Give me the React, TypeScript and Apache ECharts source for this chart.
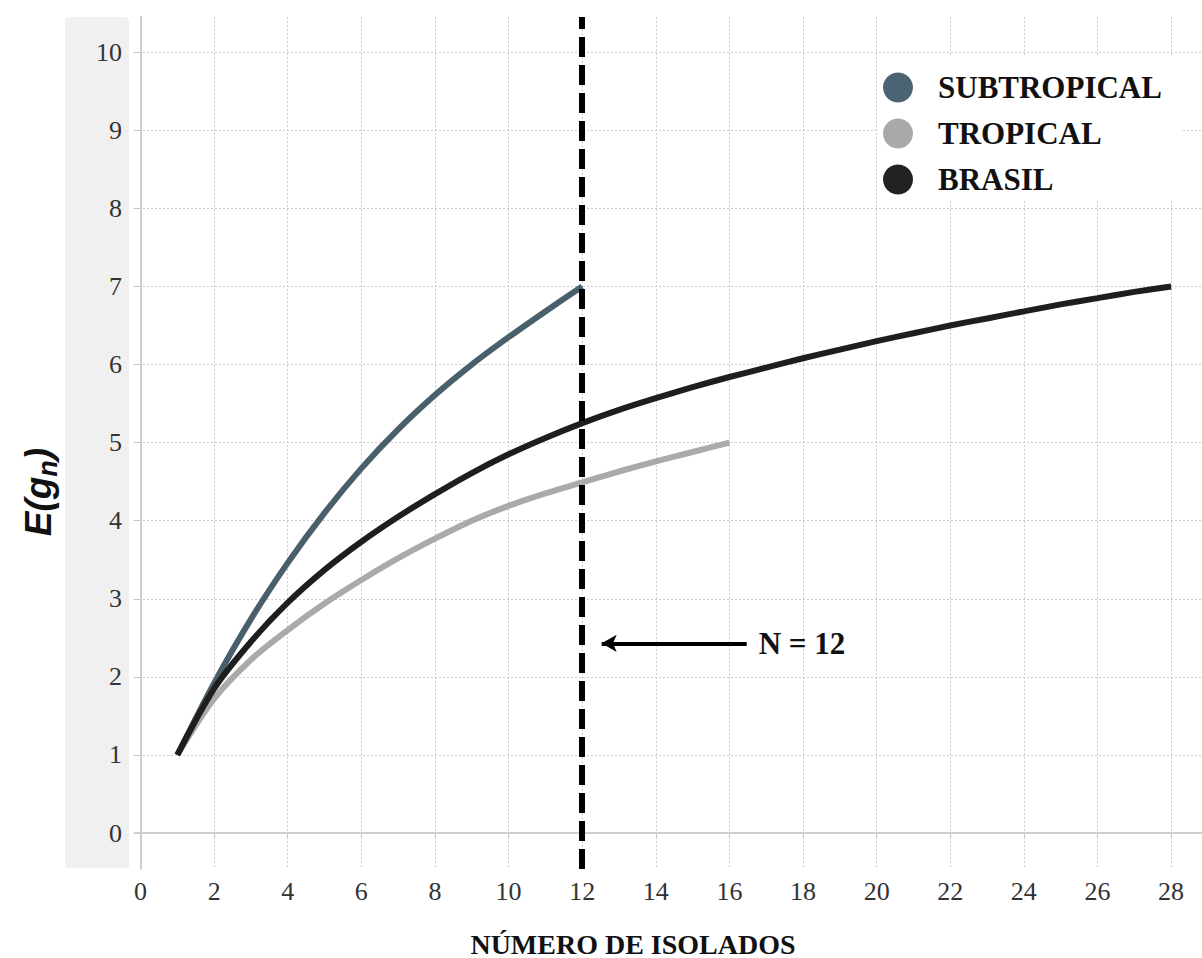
import React, { useEffect, useRef } from "react";
import * as echarts from "echarts";

const xTicks = [0, 2, 4, 6, 8, 10, 12, 14, 16, 18, 20, 22, 24, 26, 28];
const yTicks = [0, 1, 2, 3, 4, 5, 6, 7, 8, 9, 10];

const subtropicalX = [1, 2, 3, 4, 5, 6, 7, 8, 9, 10, 11, 12];
const subtropicalY = [1, 1.92, 2.74, 3.46, 4.1, 4.67, 5.17, 5.61, 6.0, 6.35, 6.68, 7.0];

const tropicalX = [1, 2, 3, 4, 5, 6, 7, 8, 9, 10, 11, 12, 13, 14, 15, 16];
const tropicalY = [1, 1.72, 2.22, 2.6, 2.94, 3.24, 3.52, 3.77, 4.0, 4.19, 4.35, 4.49, 4.63, 4.76, 4.88, 5.0];

const brasilX = [1, 2, 3, 4, 5, 6, 7, 8, 9, 10, 11, 12, 13, 14, 15, 16, 17, 18, 19, 20, 21, 22, 23, 24, 25, 26, 27, 28];
const brasilY = [1, 1.85, 2.45, 2.95, 3.37, 3.73, 4.05, 4.34, 4.61, 4.85, 5.06, 5.25, 5.42, 5.57, 5.71, 5.84, 5.96, 6.08, 6.19, 6.3, 6.4, 6.5, 6.59, 6.68, 6.77, 6.85, 6.93, 7.0];

const cutoffN = 12;
const arrowY = 2.43;
const arrowFrom = 16.47;
const arrowTo = 12.53;

const seriesNames = ["SUBTROPICAL", "TROPICAL", "BRASIL"];
const lineColors = ["#4a5f6c", "#aaaaaa", "#1e1e1e"];

const pair = (xs: number[], ys: number[]) => xs.map((x, i) => [x, ys[i]]);

export default function App() {
  const ref = useRef<HTMLDivElement>(null);
  useEffect(() => {
    if (!ref.current) return;
    const chart = echarts.init(ref.current, null, { renderer: "svg" });
    const serif = "'Liberation Serif', 'Times New Roman', serif";
    const sans = "'Liberation Sans', Arial, sans-serif";
    const gridLine = { show: true, lineStyle: { color: "#cccccc", type: [2, 2] as any, width: 1 } };
    chart.setOption({
      animation: false,
      backgroundColor: "#ffffff",
      grid: { left: 135, top: 17, right: 0, bottom: 89, containLabel: false },
      legend: {
        orient: "vertical",
        left: 878,
        top: 55,
        padding: [17, 20, 5, 5],
        backgroundColor: "#ffffff",
        itemWidth: 30,
        itemHeight: 30,
        itemGap: 15,
        icon: "circle",
        data: seriesNames,
        textStyle: {
          fontFamily: serif,
          fontWeight: "bold",
          fontSize: 31,
          lineHeight: 30,
          color: "#111111",
          padding: [0, 0, 0, 20],
        },
      },
      xAxis: {
        type: "value",
        min: -0.15,
        max: 28.84,
        axisLine: { show: true, lineStyle: { color: "#cfcfcf", width: 2 } },
        axisTick: { show: true, length: 6, lineStyle: { color: "#c8c8c8" }, customValues: xTicks },
        axisLabel: { customValues: xTicks, fontFamily: serif, fontSize: 26, color: "#333333", margin: 9 },
        splitLine: gridLine,
      },
      yAxis: {
        type: "value",
        min: -0.46,
        max: 10.45,
        axisLine: { show: true, lineStyle: { color: "#cfcfcf", width: 2 } },
        axisTick: { show: true, length: 7, lineStyle: { color: "#c8c8c8" }, customValues: yTicks },
        axisLabel: { customValues: yTicks, fontFamily: serif, fontSize: 26, color: "#333333", margin: 13 },
        splitLine: gridLine,
      },
      graphic: [
        {
          type: "rect",
          z: -10,
          shape: { x: 65, y: 17, width: 64, height: 851, r: [5, 5, 0, 0] },
          style: { fill: "#f0f0f0" },
        },
        {
          type: "text",
          x: 38,
          y: 492,
          rotation: Math.PI / 2,
          style: {
            text: "{e|E(g}{s|n}{e|)}",
            align: "center",
            verticalAlign: "middle",
            rich: {
              e: { fontFamily: sans, fontWeight: "bold", fontStyle: "italic", fontSize: 37, fill: "#111111", verticalAlign: "middle" },
              s: { fontFamily: sans, fontWeight: "bold", fontStyle: "italic", fontSize: 27, fill: "#111111", verticalAlign: "middle", padding: [20, 0, 0, 0] },
            },
          },
        },
        {
          type: "text",
          x: 633,
          y: 944,
          style: {
            text: "NÚMERO DE ISOLADOS",
            align: "center",
            verticalAlign: "middle",
            fontFamily: serif,
            fontWeight: "bold",
            fontSize: 28,
            fill: "#111111",
          },
        },
      ],
      series: [
        {
          name: seriesNames[0],
          type: "line",
          data: pair(subtropicalX, subtropicalY),
          smooth: 0.3,
          showSymbol: false,
          itemStyle: { color: "#4b6473" },
          lineStyle: { color: lineColors[0], width: 6 },
          z: 3,
        },
        {
          name: seriesNames[1],
          type: "line",
          data: pair(tropicalX, tropicalY),
          smooth: 0.3,
          showSymbol: false,
          itemStyle: { color: "#a9a9a9" },
          lineStyle: { color: lineColors[1], width: 6 },
          z: 2,
          markLine: {
            silent: true,
            symbol: ["none", "arrow"],
            symbolSize: [13, 15],
            lineStyle: { color: "#000000", width: 4, type: "solid" },
            label: {
              show: true,
              position: "start",
              distance: 12,
              formatter: "N = 12",
              fontFamily: serif,
              fontWeight: "bold",
              fontSize: 31,
              color: "#111111",
            },
            data: [[{ coord: [arrowFrom, arrowY] }, { coord: [arrowTo, arrowY] }]],
          },
        },
        {
          name: seriesNames[2],
          type: "line",
          data: pair(brasilX, brasilY),
          smooth: 0.3,
          showSymbol: false,
          itemStyle: { color: "#222222" },
          lineStyle: { color: lineColors[2], width: 6 },
          z: 4,
          markLine: {
            silent: true,
            symbol: "none",
            lineStyle: { color: "#000000", width: 6, type: [20, 8] },
            label: { show: false },
            data: [{ xAxis: cutoffN }],
            z: 6,
          },
        },
      ],
    });
    return () => chart.dispose();
  }, []);
  return (
    <div
      ref={ref}
      style={{ position: "fixed", left: 0, top: 0, width: 1202, height: 958, background: "#ffffff" }}
    />
  );
}
